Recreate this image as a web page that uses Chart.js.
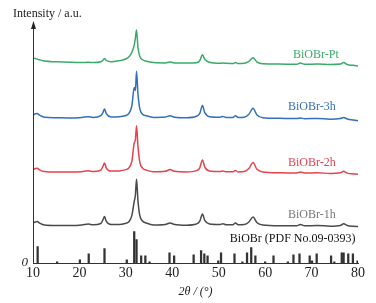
<!DOCTYPE html>
<html>
<head>
<meta charset="utf-8">
<script src="https://cdn.jsdelivr.net/npm/chart.js@4/dist/chart.umd.min.js"></script>
<style>
html,body{margin:0;padding:0;background:#fff;}
#wrap{width:376px;height:303px;position:relative;}
</style>
</head>
<body>
<div id="wrap"><canvas id="c"></canvas></div>
<script>
// 2θ positions (degrees) where intensities were read
const twoTheta = [10, 10.5, 10.9, 11.4, 12.5, 15, 18, 20.5, 21.9, 23, 24.6, 25.1, 25.4, 25.8, 26.8, 28.5, 29.8, 30.7, 31.3, 31.8, 32.05, 32.3, 32.6, 33.0, 33.6, 34.4, 36, 38.5, 39.5, 40.5, 43, 45.2, 45.9, 46.5, 47.0, 48, 50.3, 50.9, 51.6, 53.1, 53.6, 54.2, 55.5, 56.5, 57.4, 58.2, 59.5, 63, 66.8, 67.6, 68.5, 71.3, 74, 76.2, 76.9, 77.7, 79, 80];

// intensities (a.u.) above each pattern's own baseline
const int1h = [2.5, 3.5, 4, 2.5, 0.5, 0, 0, 0.5, 1.5, 0.7, 2, 6, 9, 4, 1, 1, 2, 4, 10, 24, 30, 46, 25, 10, 4.5, 2.5, 0.5, 1, 2.5, 1, 0.3, 1.5, 4, 11.5, 5, 1.5, 1, 1.8, 0.8, 0.8, 2.5, 0.8, 1, 3.5, 8.5, 3, 0.5, -0.3, -0.3, 1, -0.3, 0, -0.7, 0, 1.8, 0, -0.8, -1];
const int2h = [2.5, 3.5, 3.8, 2.3, 0.5, 0, 0, 0.4, 1.3, 0.5, 2, 6, 9, 4, 1, 1.2, 2.2, 4.5, 11, 29, 32, 46, 26, 10, 4, 2, 0.3, 0.8, 2.5, 0.8, 0.2, 1.5, 4, 12, 5, 1.2, 0.6, 1.2, 0.3, 0.4, 1.5, 0.2, 0.6, 3.5, 9.5, 3, 0.2, -0.6, -0.8, 0, -0.9, -0.7, -1.3, -0.7, 0.8, -1, -1.8, -2];
const int3h = [2.5, 4, 4.3, 2.5, 0.5, 0, -0.2, 0.3, 1, 0.3, 2, 5.5, 8.7, 4, 0.8, 1, 2, 4.5, 12, 30, 27, 46, 24, 9, 3.5, 2, 0.3, 0.6, 2, 0.5, 0, 1.5, 4, 12, 5, 1, 0.5, 1.3, 0.2, 0.3, 2, 0.2, 0.5, 3.5, 9.3, 3, 0, -0.6, -0.8, -0.3, -1, -0.8, -1.5, -0.8, 0.3, -1.3, -2.3, -3];
const intPt = [4.3, 3.8, 3.2, 2.5, 1.2, 0.5, 0, -0.2, 0, -0.3, 0.5, 2.3, 3.7, 1.8, 0.5, 1.5, 3, 5.5, 10, 17, 24, 32, 15, 6, 2.5, 1, -0.3, -0.6, 0.2, -0.6, -0.8, -0.5, 1.5, 7.5, 3, 0, -1, -0.8, -1, -1.2, -0.3, -1.2, -1, 1, 4.5, 0.5, -1.5, -1.8, -2, -0.7, -2, -1.8, -2.3, -1.8, -0.2, -2.3, -3, -3.7];

// vertical offsets used to stack the patterns
const offsets = {"BiOBr-1h": 38, "BiOBr-2h": 91, "BiOBr-3h": 145, "BiOBr-Pt": 200};

// reference pattern BiOBr (PDF No.09-0393): positions and relative heights
const pdfTheta = [11.0, 15.2, 20.1, 22.0, 25.4, 30.2, 31.8, 32.3, 33.3, 34.2, 35.1, 39.4, 40.4, 44.6, 46.2, 46.9, 47.6, 49.9, 50.5, 53.4, 55.1, 56.1, 57.0, 57.9, 60.0, 61.8, 64.9, 66.1, 67.4, 69.6, 70.1, 71.1, 74.2, 74.9, 76.5, 76.9, 77.9, 78.9, 79.9];
const pdfInt = [17, 2, 4, 10, 15, 4, 32, 24, 8, 8, 2, 11, 8, 9, 13, 10, 8, 3, 11, 10, 2, 11, 16, 8, 2, 8, 2, 9, 10, 8, 3, 10, 8, 2, 11, 11, 10, 10, 3];

const xTicks = [10, 20, 30, 40, 50, 60, 70, 80];

const serif = '"Liberation Serif", "DejaVu Serif", serif';
const colors = {"BiOBr-1h": "#4a4a4a", "BiOBr-2h": "#e8424c", "BiOBr-3h": "#346fbd", "BiOBr-Pt": "#3aaa6a"};
const series = [["BiOBr-1h", int1h], ["BiOBr-2h", int2h], ["BiOBr-3h", int3h], ["BiOBr-Pt", intPt]];

const lineSets = series.map(([name, arr]) => ({
  type: 'line',
  label: name,
  data: twoTheta.map((t, i) => ({x: t, y: arr[i] + offsets[name]})),
  borderColor: colors[name],
  borderWidth: 1.5,
  pointRadius: 0,
  cubicInterpolationMode: 'monotone',
  fill: false
}));

const stickSet = {
  type: 'bar',
  label: 'BiOBr (PDF No.09-0393)',
  data: pdfTheta.map((t, i) => ({x: t, y: pdfInt[i]})),
  backgroundColor: '#333',
  barThickness: 1.6,
  base: 0
};

const labelPos = [
  ["BiOBr-Pt", 66.0, 207, colors["BiOBr-Pt"]],
  ["BiOBr-3h", 64.9, 156, colors["BiOBr-3h"]],
  ["BiOBr-2h", 64.9, 100, colors["BiOBr-2h"]],
  ["BiOBr-1h", 64.9, 49, "#777"],
  ["BiOBr (PDF No.09-0393)", 52.4, 25, "#111"]
];

const annot = {
  id: 'annot',
  afterDraw(chart) {
    const {ctx, chartArea, scales} = chart;
    const xs = scales.x, ys = scales.y;
    ctx.save();
    // y axis with arrow
    ctx.strokeStyle = '#333';
    ctx.lineWidth = 1;
    const ax = Math.round(chartArea.left) + 0.5;
    ctx.beginPath();
    ctx.moveTo(ax, chartArea.bottom);
    ctx.lineTo(ax, chartArea.top + 4);
    ctx.stroke();
    ctx.fillStyle = '#222';
    ctx.beginPath();
    ctx.moveTo(ax, chartArea.top - 1);
    ctx.lineTo(ax - 2.5, chartArea.top + 7);
    ctx.lineTo(ax + 2.5, chartArea.top + 7);
    ctx.closePath();
    ctx.fill();
    // texts
    ctx.textBaseline = 'middle';
    ctx.textAlign = 'left';
    ctx.font = '12px ' + serif;
    ctx.fillStyle = '#222';
    ctx.fillText('Intensity / a.u.', 13, 14);
    ctx.font = 'italic 13px ' + serif;
    ctx.textAlign = 'right';
    ctx.fillText('0', chartArea.left - 5, chartArea.bottom - 1);
    ctx.textAlign = 'left';
    ctx.font = '12px ' + serif;
    labelPos.forEach(([t, xv, yv, c]) => {
      ctx.fillStyle = c;
      ctx.fillText(t, xs.getPixelForValue(xv), ys.getPixelForValue(yv));
    });
    ctx.restore();
  }
};

new Chart(document.getElementById('c'), {
  type: 'line',
  data: {datasets: [...lineSets, stickSet]},
  options: {
    responsive: true,
    maintainAspectRatio: false,
    animation: false,
    layout: {padding: {left: 33, right: 18, top: 22, bottom: 2}},
    scales: {
      x: {
        type: 'linear', min: 10, max: 80, offset: false,
        afterBuildTicks: (s) => { s.ticks = xTicks.map(v => ({value: v})); },
        ticks: {font: {family: serif, size: 14}, color: '#222', padding: 1, maxRotation: 0},
        grid: {display: false, drawTicks: false},
        border: {display: true, color: '#333', width: 1},
        title: {display: true, text: '2θ / (°)', font: {family: serif, size: 12, style: 'italic'}, color: '#222', padding: {top: 2, bottom: 2}}
      },
      y: {display: false, min: 0, max: 240}
    },
    plugins: {legend: {display: false}, tooltip: {enabled: false}}
  },
  plugins: [annot]
});
</script>
</body>
</html>
